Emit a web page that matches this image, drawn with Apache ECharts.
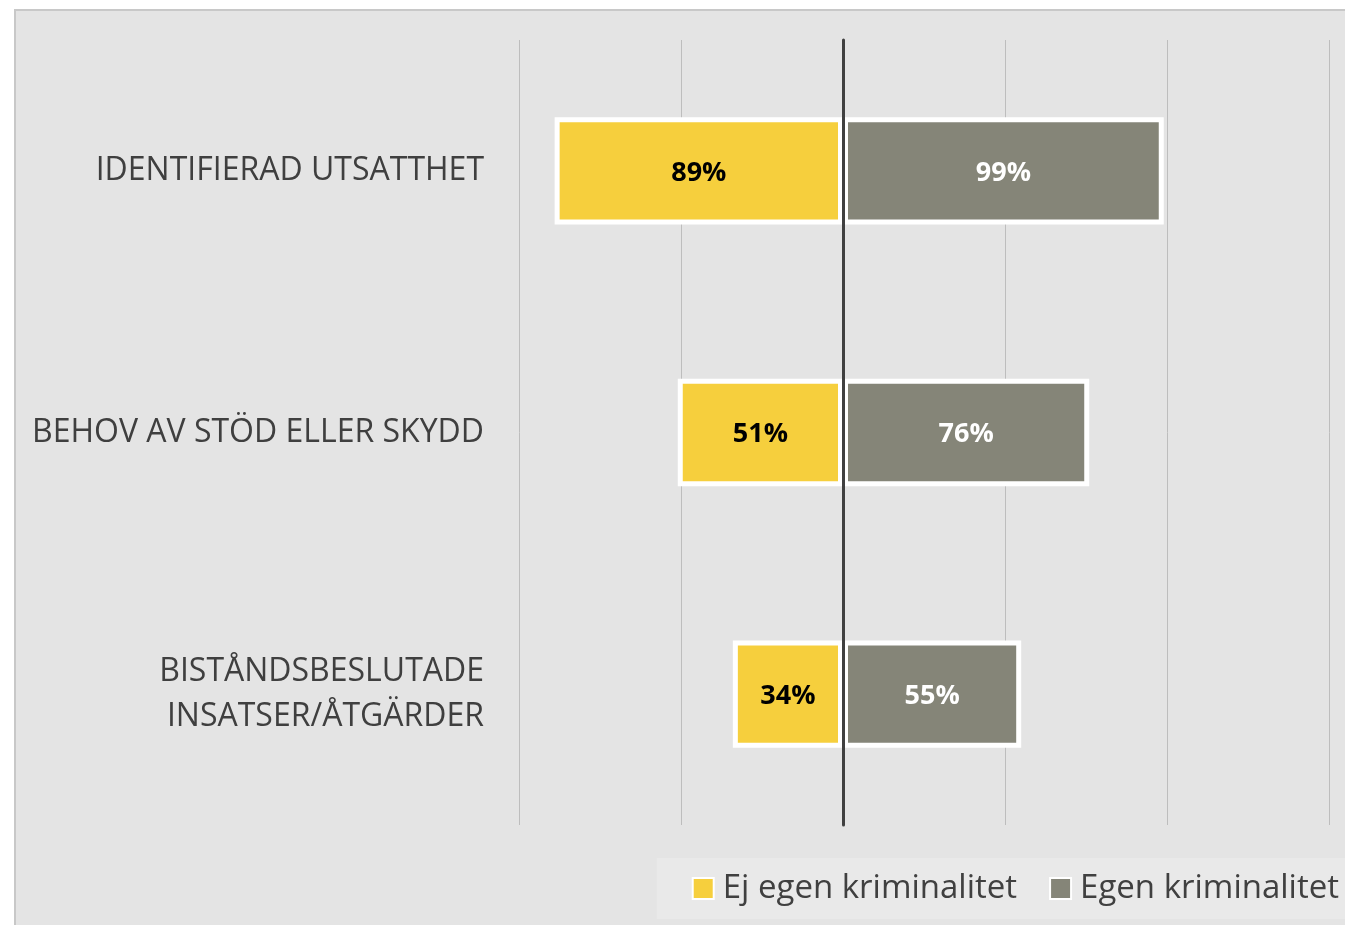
<!DOCTYPE html>
<html>
<head>
<meta charset="utf-8">
<script src="https://cdn.jsdelivr.net/npm/echarts@6/dist/echarts.min.js"></script>
<style>
    html, body { margin: 0; padding: 0; background: #ffffff; }
    #box {
        position: absolute; left: 14px; top: 9px;
        width: 1331px; height: 916px;
        border-left: 2px solid #c8c8c8; border-top: 2px solid #c8c8c8;
        box-sizing: border-box; background: #e4e4e4;
    }
    #chart { width: 1329px; height: 914px; }
</style>
</head>
<body>
<div id="box"><div id="chart"></div></div>
<script>
var categories = ['IDENTIFIERAD UTSATTHET', 'BEHOV AV STÖD ELLER SKYDD', 'BISTÅNDSBESLUTADE\nINSATSER/ÅTGÄRDER'];
var ejEgen = [89, 51, 34];   // Ej egen kriminalitet, drawn to the left
var egen = [99, 76, 55];     // Egen kriminalitet, drawn to the right

var myChart = echarts.init(document.getElementById('chart'));
var option = {
    backgroundColor: 'transparent',
    textStyle: { fontFamily: 'Open Sans' },
    grid: { left: 503, right: 16, top: 29, bottom: 100 },
    legend: {
        right: 0,
        bottom: 6,
        padding: [14, 6, 14, 35],
        backgroundColor: '#e9e9e9',
        icon: 'rect',
        itemWidth: 21,
        itemHeight: 21,
        itemGap: 32,
        textStyle: { fontSize: 33, color: '#404040', fontFamily: 'Open Sans', padding: [0, 0, 0, 4] },
        data: ['Ej egen kriminalitet', 'Egen kriminalitet']
    },
    xAxis: {
        type: 'value',
        min: -100,
        max: 150,
        interval: 50,
        axisLabel: { show: false },
        axisLine: { show: false },
        axisTick: { show: false },
        splitLine: { lineStyle: { color: '#bdbdbd', width: 1 } }
    },
    yAxis: {
        type: 'category',
        inverse: true,
        data: categories,
        z: 10,
        axisTick: { show: false },
        axisLine: { show: true, onZero: true, lineStyle: { color: '#404040', width: 3 } },
        axisLabel: {
            fontSize: 32,
            color: '#3f3f3f',
            margin: 35,
            lineHeight: 45,
            align: 'right'
        }
    },
    series: [
        {
            name: 'Ej egen kriminalitet',
            type: 'bar',
            stack: 'total',
            barWidth: '41%',
            data: ejEgen.map(function (v) { return -v; }),
            itemStyle: { color: '#f6cf3d', borderColor: '#ffffff', borderWidth: 5 },
            label: {
                show: true,
                position: 'inside',
                color: '#000000',
                fontWeight: 'bold',
                fontSize: 27,
                offset: [0, 2],
                formatter: function (p) { return Math.abs(p.value) + '%'; }
            }
        },
        {
            name: 'Egen kriminalitet',
            type: 'bar',
            stack: 'total',
            barWidth: '41%',
            data: egen,
            itemStyle: { color: '#858578', borderColor: '#ffffff', borderWidth: 5 },
            label: {
                show: true,
                position: 'inside',
                color: '#ffffff',
                fontWeight: 'bold',
                fontSize: 27,
                offset: [0, 2],
                formatter: function (p) { return p.value + '%'; }
            }
        }
    ]
};
myChart.setOption(option);
</script>
</body>
</html>
